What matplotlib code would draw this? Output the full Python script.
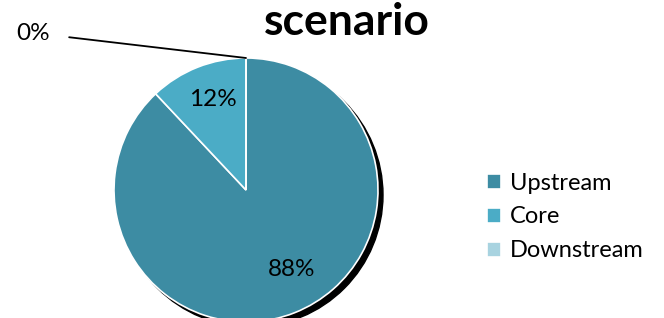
import matplotlib
matplotlib.use('Agg')
import matplotlib.pyplot as plt
from matplotlib.patches import Circle

plt.rcParams['font.family'] = ['Lato', 'DejaVu Sans']

segments = ['Upstream', 'Core', 'Downstream']
shares = [88, 12, 0]
colors = ['#3d8ca3', '#4bacc6', '#a8d3e0']
title = 'scenario'

W, H = 664, 318
fig = plt.figure(figsize=(W / 100, H / 100), dpi=100)
ax = fig.add_axes([0, 0, 1, 1])

cx, cy, r = 246, H - 190, 132

# shadow behind the pie
ax.add_patch(Circle((cx + 5, cy - 5), r, color='black', zorder=1))

wedges, _ = ax.pie(shares, colors=colors, startangle=90, counterclock=False,
                   center=(cx, cy), radius=r, frame=True,
                   wedgeprops=dict(edgecolor='white', linewidth=1.2, zorder=2))
ax.set_xlim(0, W)
ax.set_ylim(0, H)
ax.axis('off')

total = sum(shares)
label_pos = {'Upstream': (292, H - 270), 'Core': (213, H - 99)}
for name, val in zip(segments, shares):
    pct = '{:.0f}%'.format(100 * val / total)
    if name in label_pos:
        ax.text(*label_pos[name], pct, ha='center', va='center', fontsize=17.5, zorder=5)
    else:
        ax.annotate(pct, xy=(cx, cy + r), xytext=(33, H - 33),
                    ha='center', va='center', fontsize=17.5,
                    arrowprops=dict(arrowstyle='-', color='black', lw=1.3,
                                    shrinkA=12, shrinkB=0))

ax.text(347, H - 22, title, ha='center', va='center', fontsize=32, fontweight='bold')

fig.legend(wedges, segments, loc='center left', bbox_to_anchor=(466 / W, 1 - 217 / H),
           frameon=False, fontsize=17, handlelength=0.6, handleheight=0.6,
           handletextpad=0.35, labelspacing=0.55)

fig.savefig('out.png', dpi=100)
